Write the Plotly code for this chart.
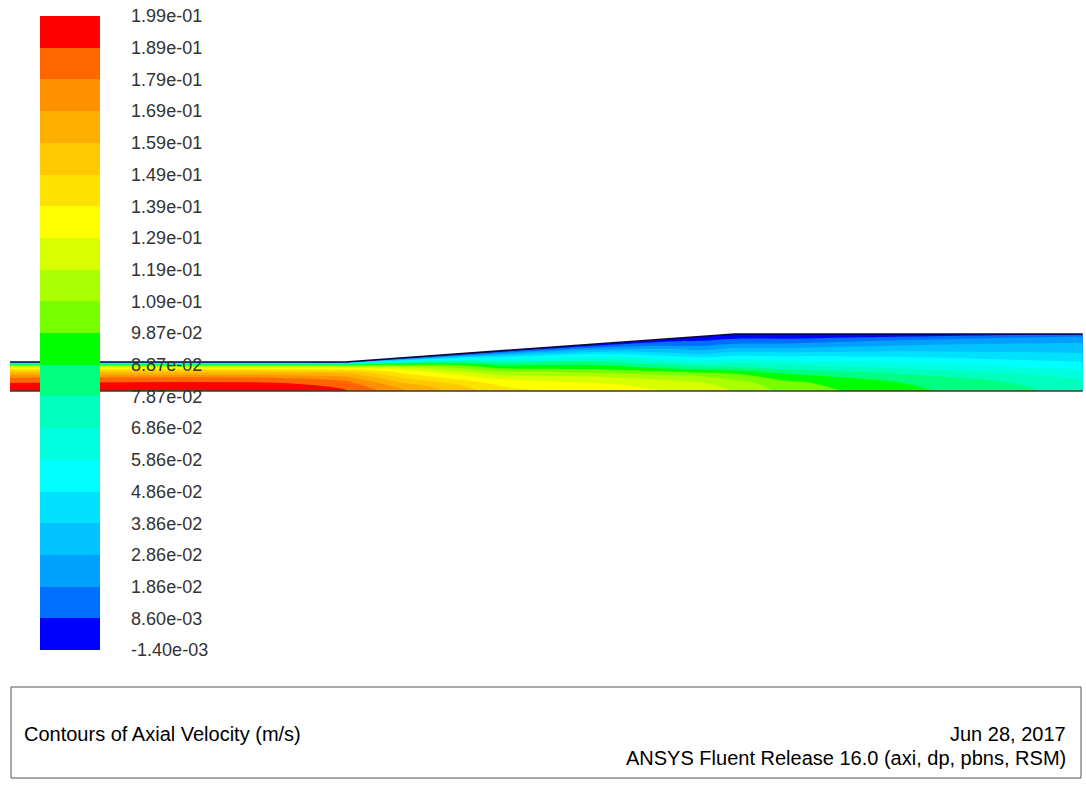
import numpy as np
import plotly.graph_objects as go

W, H = 1086, 787

# ---------------- colour legend ----------------
tick_text = ["-1.40e-03", "8.60e-03", "1.86e-02", "2.86e-02", "3.86e-02", "4.86e-02",
             "5.86e-02", "6.86e-02", "7.87e-02", "8.87e-02", "9.87e-02", "1.09e-01",
             "1.19e-01", "1.29e-01", "1.39e-01", "1.49e-01", "1.59e-01", "1.69e-01",
             "1.79e-01", "1.89e-01", "1.99e-01"]
v_min = -0.0014
v_max = 0.199
band_colors = ["rgb(0,0,255)", "rgb(0,110,255)", "rgb(0,160,255)", "rgb(0,195,255)",
               "rgb(0,225,255)", "rgb(0,255,255)", "rgb(0,255,225)", "rgb(0,255,190)",
               "rgb(0,255,128)", "rgb(0,255,0)", "rgb(120,255,0)", "rgb(170,255,0)",
               "rgb(215,255,0)", "rgb(255,255,0)", "rgb(255,225,0)", "rgb(255,200,0)",
               "rgb(255,175,0)", "rgb(255,145,0)", "rgb(255,102,0)", "rgb(255,0,0)"]

# ---------------- geometry (pipe wall, axisymmetric) ----------------
wall_x = [0.0, 5.88, 12.72, 18.82]
wall_r = [0.509, 0.509, 1.0, 1.0]

# ---------------- axial velocity field ----------------
# axial stations and normalised radius (r / R)
station_x = [0.0, 4.74, 5.88, 6.84, 8.60, 10.35, 12.11, 12.72, 13.68, 15.61, 18.82]
eta = [0.0, 0.15, 0.30, 0.45, 0.60, 0.70, 0.80, 0.88, 0.94, 0.98, 1.0]
u_s0 = [0.198, 0.195, 0.188, 0.179, 0.163, 0.149, 0.131, 0.105, 0.070, 0.030, 0.0]
u_s1 = [0.198, 0.195, 0.188, 0.179, 0.163, 0.149, 0.131, 0.105, 0.070, 0.030, 0.0]
u_s2 = [0.190, 0.187, 0.182, 0.173, 0.160, 0.147, 0.130, 0.105, 0.070, 0.030, 0.0]
u_s3 = [0.172, 0.166, 0.156, 0.146, 0.135, 0.124, 0.096, 0.0686, 0.0386, 0.012, 0.0]
u_s4 = [0.143, 0.138, 0.128, 0.114, 0.094, 0.080, 0.0586, 0.040, 0.022, 0.008, 0.0]
u_s5 = [0.134, 0.130, 0.119, 0.100, 0.082, 0.065, 0.045, 0.028, 0.014, 0.004, 0.0]
u_s6 = [0.126, 0.120, 0.106, 0.0787, 0.052, 0.035, 0.022, 0.012, 0.007, 0.003, 0.0]
u_s7 = [0.118, 0.113, 0.099, 0.075, 0.051, 0.036, 0.022, 0.0125, 0.0065, 0.0025, 0.0]
u_s8 = [0.105, 0.101, 0.0887, 0.070, 0.050, 0.036, 0.023, 0.013, 0.006, 0.002, 0.0]
u_s9 = [0.092, 0.0887, 0.0787, 0.063, 0.0486, 0.0386, 0.0286, 0.020, 0.011, 0.004, 0.0]
u_s10 = [0.075, 0.072, 0.064, 0.053, 0.043, 0.0366, 0.032, 0.0265, 0.022, 0.013, 0.0]
u_field = [u_s0, u_s1, u_s2, u_s3, u_s4, u_s5, u_s6, u_s7, u_s8, u_s9, u_s10]

# ---------------- build figure ----------------
n_bands = len(band_colors)
step = (v_max - v_min) / n_bands
level_vals = [v_min + i * step for i in range(n_bands + 1)]
cscale = [[i / (n_bands - 1), c] for i, c in enumerate(band_colors)]

R_st = np.interp(station_x, wall_x, wall_r)
X2 = [[sx for _ in eta] for sx in station_x]
Y2 = [[e * R for e in eta] for R in R_st]

hidden_ax = dict(showgrid=False, showline=False, showticklabels="none",
                 startline=False, endline=False, smoothing=0, minorgridcount=0,
                 gridcolor="rgba(0,0,0,0)", linecolor="rgba(0,0,0,0)")

fig = go.Figure()
fig.add_trace(go.Carpet(carpet="pipe", a=eta, b=station_x, x=X2, y=Y2,
                        aaxis=hidden_ax, baxis=hidden_ax))
fig.add_trace(go.Contourcarpet(
    carpet="pipe", a=eta, b=station_x, z=u_field,
    autocontour=False,
    contours=dict(start=v_min + step, end=v_max - step * 0.999, size=step,
                  coloring="fill", showlines=False),
    line=dict(width=0),
    colorscale=cscale, zmin=v_min, zmax=v_max,
    colorbar=dict(
        x=40 / W, xanchor="left", y=1 - 16 / H, yanchor="top",
        len=634, lenmode="pixels", thickness=60, thicknessmode="pixels",
        xpad=0, ypad=0, outlinewidth=0,
        tickmode="array", tickvals=level_vals, ticktext=tick_text,
        ticks="outside", ticklen=28, tickcolor="rgba(0,0,0,0)",
        tickfont=dict(family="Liberation Sans, Arial", size=18, color="#333333"),
    ),
))
# wall and axis edges
fig.add_trace(go.Scatter(x=wall_x, y=wall_r, mode="lines",
                         line=dict(color="#0a0a3c", width=1.6), hoverinfo="skip", showlegend=False))
fig.add_trace(go.Scatter(x=[wall_x[0], wall_x[-1]], y=[0, 0], mode="lines",
                         line=dict(color="#3a3a30", width=1.6), hoverinfo="skip", showlegend=False))

ppu = 57.0  # pixels per length unit
x0_px, axis_px = 10.0, 391.0
fig.update_xaxes(range=[-x0_px / ppu, (W - x0_px) / ppu], visible=False, fixedrange=True)
fig.update_yaxes(range=[(axis_px - H) / ppu, axis_px / ppu], visible=False, fixedrange=True)

def px(xp):
    return xp / W

def py(yp):
    return 1 - yp / H

fig.add_shape(type="rect", xref="paper", yref="paper",
              x0=px(11), x1=px(1081), y0=py(687), y1=py(778),
              line=dict(color="#555555", width=1), fillcolor="rgba(0,0,0,0)")

txt_font = dict(family="Liberation Sans, Arial", size=20, color="#000000")
fig.add_annotation(text="Contours of Axial Velocity (m/s)", xref="paper", yref="paper",
                   x=px(22), y=py(734), xanchor="left", yanchor="middle",
                   showarrow=False, font=txt_font)
fig.add_annotation(text="Jun 28, 2017", xref="paper", yref="paper",
                   x=px(1068), y=py(734), xanchor="right", yanchor="middle",
                   showarrow=False, font=txt_font)
fig.add_annotation(text="ANSYS Fluent Release 16.0 (axi, dp, pbns, RSM)", xref="paper", yref="paper",
                   x=px(1068), y=py(758), xanchor="right", yanchor="middle",
                   showarrow=False, font=txt_font)

fig.update_layout(width=W, height=H, autosize=False,
                  margin=dict(l=0, r=0, t=0, b=0, pad=0),
                  paper_bgcolor="white", plot_bgcolor="white",
                  showlegend=False)

fig.write_html("out.html")
